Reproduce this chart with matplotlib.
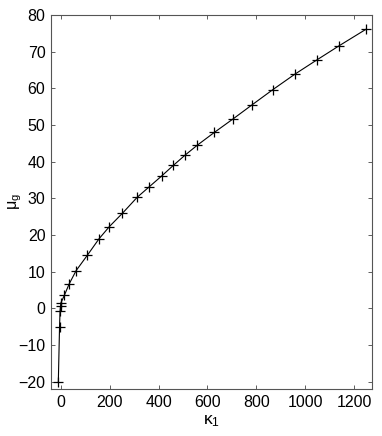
import numpy as np
import matplotlib.pyplot as plt

plt.rcParams['font.family'] = ['Liberation Sans', 'DejaVu Sans']

# data
kappa1 = [-10, -5, -3, -1, 0, 15, 34, 63, 109, 157, 199, 252, 313, 363, 413, 461,
          509, 559, 629, 706, 783, 867, 959, 1047, 1139, 1249]
mu_g = [-20, -5, -0.8, 0.5, 1.4, 3.6, 6.6, 10.3, 14.5, 19.0, 22.3, 25.9, 30.3, 33.2,
        36.1, 39.0, 41.8, 44.5, 48.0, 51.7, 55.5, 59.6, 63.9, 67.7, 71.6, 76.1]

fig = plt.figure(figsize=(3.82, 4.36), dpi=100, facecolor='white')
ax = fig.add_axes([0.1335, 0.1078, 0.8411, 0.8578])

ax.plot(kappa1, mu_g, color='black', linewidth=0.8, marker='+',
        markersize=7.5, markeredgewidth=0.9)

ax.set_xlim(-40, 1275)
ax.set_ylim(-22, 80)
ax.set_xticks(np.arange(0, 1201, 200))
ax.set_yticks(np.arange(-20, 81, 10))
ax.tick_params(direction='in', length=3, width=0.6, top=True, right=True,
               labelsize=11.5, colors='#444444', labelcolor='black', pad=4)
for s in ax.spines.values():
    s.set_color('#555555')
    s.set_linewidth(0.8)

ax.set_xlabel(r'$\mathregular{\kappa_1}$', fontsize=12.5, labelpad=3)
ax.set_ylabel(r'$\mathregular{\mu_g}$', fontsize=11.5)
ax.yaxis.set_label_coords(-0.085, 0.5)

plt.savefig('out.png', dpi=100)
